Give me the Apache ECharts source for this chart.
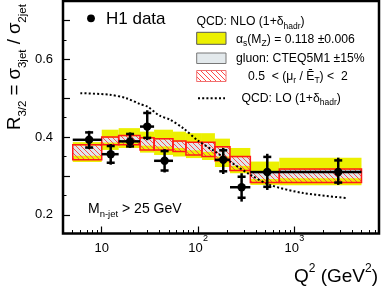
<!DOCTYPE html>
<html><head><meta charset="utf-8">
<script src="https://cdn.jsdelivr.net/npm/echarts@6/dist/echarts.min.js"></script>
<style>html,body{margin:0;padding:0;background:#fff}#c{width:382px;height:289px}</style>
</head><body><div id="c"></div>
<script>
// ---------- data ----------
const qEdges   = [5, 10, 15, 25, 35, 55, 75, 110, 150, 215, 350, 700, 5000];
const yellowLo = [0.336,0.367,0.372,0.360,0.354,0.350,0.346,0.341,0.323,0.307,0.277,0.276];
const yellowHi = [0.387,0.419,0.423,0.414,0.419,0.414,0.410,0.410,0.396,0.372,0.337,0.347];
const gluonLo  = [0.352,0.386,0.387,0.378,0.376,0.372,0.366,0.362,0.350,0.326,0.292,0.294];
const gluonHi  = [0.378,0.398,0.402,0.396,0.394,0.388,0.385,0.385,0.373,0.348,0.309,0.316];
const scaleLo  = [0.342,0.380,0.380,0.367,0.367,0.363,0.354,0.350,0.339,0.314,0.283,0.283];
const scaleHi  = [0.380,0.400,0.404,0.398,0.396,0.390,0.387,0.387,0.375,0.350,0.311,0.318];

const dataQ2   = [7.4, 12.4, 19.7, 29.7, 45, 183, 284, 525, 2865];
const dataQLo  = [5, 10, 15, 25, 35, 150, 215, 350, 700];
const dataQHi  = [10, 15, 25, 35, 55, 215, 350, 700, 5000];
const dataR    = [0.393,0.356,0.389,0.427,0.339,0.3415,0.271,0.310,0.310];
const totLo    = [0.369,0.329,0.372,0.392,0.309,0.305,0.234,0.264,0.277];
const totHi    = [0.416,0.382,0.412,0.469,0.369,0.372,0.307,0.357,0.347];
const statLo   = [0.373,0.334,0.376,0.398,0.314,0.312,0.244,0.272,0.283];
const statHi   = [0.412,0.377,0.408,0.462,0.364,0.366,0.298,0.349,0.340];

const loQ2 = [6, 12, 18, 25, 30, 40, 51, 70, 100, 150, 215, 350, 560, 1240, 3600];
const loR  = [0.513,0.509,0.500,0.485,0.478,0.455,0.445,0.423,0.391,0.363,0.337,0.303,0.277,0.256,0.243];

const xMajorTicks = [10, 100, 1000];
const xLabelBase  = ['10', '10', '10'];
const xLabelExp   = ['', '2', '3'];
const xMinorTicks = [5,6,7,8,9,20,30,40,50,60,70,80,90,200,300,400,500,600,700,800,900,2000,3000,4000,5000,6000,7000];
const yMajorTicks = [0.2, 0.3, 0.4, 0.5, 0.6, 0.7];
const yMinorTicks = [0.25, 0.35, 0.45, 0.55, 0.65];
const yLabelVals  = [0.2, 0.4, 0.6];

const X_MIN = 3.96, X_MAX = 7600, Y_MIN = 0.152, Y_MAX = 0.75;
// ---------------------------------------------------
const FONT = "'Liberation Sans', Arial, Helvetica, sans-serif";
const lg = Math.log10;
const YELLOW = '#ecf000', GRAY = '#dfe6ea', RED = '#ff1a1a';

function hatch() {
  const c = document.createElement('canvas'); c.width = 5; c.height = 5;
  const g = c.getContext('2d'); g.strokeStyle = '#ff4a4a'; g.lineWidth = 1;
  for (const o of [-5, 0, 5]) { g.beginPath(); g.moveTo(o, 0); g.lineTo(o + 5, 5); g.stroke(); }
  return c;
}
const HATCH = { image: hatch(), repeat: 'repeat' };

function boxes(lo, hi) {
  return lo.map((v, i) => [lg(qEdges[i]), lg(qEdges[i + 1]), v, hi[i]]);
}
function boxRender(style) {
  return function (params, api) {
    const a = api.coord([api.value(0), api.value(3)]);
    const b = api.coord([api.value(1), api.value(2)]);
    return { type: 'rect', shape: { x: a[0], y: a[1], width: b[0] - a[0], height: b[1] - a[1] }, style: style };
  };
}

const pts = dataQ2.map((q, i) => [lg(q), dataR[i], lg(dataQLo[i]), lg(dataQHi[i]), totLo[i], totHi[i], statLo[i], statHi[i]]);

const chart = echarts.init(document.getElementById('c'), null, { renderer: 'canvas' });
const axisBase = { type: 'value', min: lg(X_MIN), max: lg(X_MAX), position: 'bottom',
  axisLine: { show: false }, splitLine: { show: false } };
const yBase = { type: 'value', min: Y_MIN, max: Y_MAX, position: 'left',
  axisLine: { show: false }, splitLine: { show: false } };

chart.setOption({
  animation: false,
  backgroundColor: '#fff',
  grid: { left: 63, top: 1, width: 316, height: 232.5, show: true, borderColor: '#000', borderWidth: 2.5, backgroundColor: 'transparent' },
  xAxis: [
    Object.assign({}, axisBase, {
      axisTick: { inside: true, length: 7, customValues: xMajorTicks.map(lg), lineStyle: { color: '#000', width: 1.2 } },
      axisLabel: { show: false }
    }),
    Object.assign({}, axisBase, {
      axisTick: { inside: true, length: 3.5, customValues: xMinorTicks.map(lg), lineStyle: { color: '#000', width: 1 } },
      axisLabel: { show: false }
    })
  ],
  yAxis: [
    Object.assign({}, yBase, {
      axisTick: { inside: true, length: 7, customValues: yMajorTicks, lineStyle: { color: '#000', width: 1.2 } },
      axisLabel: { customValues: yLabelVals, formatter: v => v.toFixed(1), fontSize: 13, margin: 10, color: '#000', fontFamily: FONT }
    }),
    Object.assign({}, yBase, {
      axisTick: { inside: true, length: 3.5, customValues: yMinorTicks, lineStyle: { color: '#000', width: 1 } },
      axisLabel: { show: false }
    })
  ],
  series: [
    { type: 'custom', name: 'alpha_s', data: boxes(yellowLo, yellowHi), encode: { x: [0, 1], y: [2, 3] },
      renderItem: boxRender({ fill: YELLOW }), z: 1, silent: true },
    { type: 'custom', name: 'gluon', data: boxes(gluonLo, gluonHi), encode: { x: [0, 1], y: [2, 3] },
      renderItem: boxRender({ fill: GRAY }), z: 2, silent: true },
    { type: 'custom', name: 'scale', data: boxes(scaleLo, scaleHi), encode: { x: [0, 1], y: [2, 3] },
      renderItem: boxRender({ fill: HATCH, stroke: RED, lineWidth: 1.5 }), z: 3, silent: true },
    { type: 'line', name: 'LO', data: loQ2.map((q, i) => [lg(q), loR[i]]), showSymbol: false, smooth: 0.3,
      lineStyle: { color: '#000', width: 2, type: [2, 2.2] }, z: 4, silent: true },
    { type: 'custom', name: 'H1 data', data: pts, encode: { x: 0, y: 1 }, z: 5, silent: true,
      renderItem: function (params, api) {
        const p = api.coord([api.value(0), api.value(1)]);
        const l = api.coord([api.value(2), api.value(1)]);
        const h = api.coord([api.value(3), api.value(1)]);
        const tl = api.coord([api.value(0), api.value(4)]);
        const th = api.coord([api.value(0), api.value(5)]);
        const sl = api.coord([api.value(0), api.value(6)]);
        const sh = api.coord([api.value(0), api.value(7)]);
        const st = { stroke: '#000', lineWidth: 2.5 };
        const c = 4;
        return { type: 'group', children: [
          { type: 'line', shape: { x1: l[0], y1: p[1], x2: h[0], y2: p[1] }, style: st },
          { type: 'line', shape: { x1: p[0], y1: th[1], x2: p[0], y2: tl[1] }, style: st },
          { type: 'line', shape: { x1: p[0] - c, y1: sl[1], x2: p[0] + c, y2: sl[1] }, style: st },
          { type: 'line', shape: { x1: p[0] - c, y1: sh[1], x2: p[0] + c, y2: sh[1] }, style: st },
          { type: 'circle', shape: { cx: p[0], cy: p[1], r: 4.2 }, style: { fill: '#000' } }
        ] };
      } },
    // x-axis tick labels (10, 10^2, 10^3), placed through the x scale
    { type: 'custom', name: 'xlabels', data: xMajorTicks.map((t, i) => [lg(t), i]), encode: { x: 0 }, z: 6, silent: true, clip: false,
      renderItem: function (params, api) {
        const i = api.value(1);
        const p = api.coord([api.value(0), Y_MIN]);
        const hasExp = !!xLabelExp[i];
        const baseW = 14.5, expW = 5;
        const x0 = hasExp ? p[0] - (baseW + expW) / 2 : p[0] - baseW / 2;
        const kids = [
          { type: 'text', x: x0, y: p[1] + 15,
            style: { text: xLabelBase[i], fontSize: 13, fontFamily: FONT, fill: '#000', align: 'left', verticalAlign: 'middle', textAlign: 'left', textVerticalAlign: 'middle' } }
        ];
        if (hasExp) kids.push({ type: 'text', x: x0 + baseW + 0.3, y: p[1] + 5,
            style: { text: xLabelExp[i], fontSize: 9, fontFamily: FONT, fill: '#000', align: 'left', verticalAlign: 'middle', textAlign: 'left', textVerticalAlign: 'middle' } });
        return { type: 'group', children: kids };
      } }
  ],
  graphic: [
    { type: 'text', x: 14.5, y: 67, rotation: Math.PI / 2, z: 10,
      style: { text: 'R{sb|3/2} = σ{sb|3jet} / σ{sb|2jet}', fontSize: 18.5, fontFamily: FONT, fill: '#000', lineHeight: 28,
        align: 'center', verticalAlign: 'middle', textAlign: 'center', textVerticalAlign: 'middle',
        rich: { sb: { fontSize: 11.5, lineHeight: 10, verticalAlign: 'bottom', fontFamily: FONT, fill: '#000' } } } },
    { type: 'text', x: 378, y: 276.5, z: 10,
      style: { text: 'Q{sp|2} (GeV{sp|2})', fontSize: 19, fontFamily: FONT, fill: '#000', lineHeight: 28,
        align: 'right', verticalAlign: 'middle', textAlign: 'right', textVerticalAlign: 'middle',
        rich: { sp: { fontSize: 12, lineHeight: 12, verticalAlign: 'top', fontFamily: FONT, fill: '#000' } } } },
    { type: 'circle', shape: { cx: 91, cy: 18.3, r: 3.9 }, style: { fill: '#000' }, z: 10 },
    { type: 'text', x: 106, y: 19.8, z: 10,
      style: { text: 'H1 data', fontSize: 17, fontFamily: FONT, fill: '#000', align: 'left', verticalAlign: 'middle', textAlign: 'left', textVerticalAlign: 'middle' } },
    { type: 'text', x: 196.5, y: 22, z: 10,
      style: { text: 'QCD: NLO (1+δ{sb|hadr})', fontSize: 12.2, fontFamily: FONT, fill: '#000', lineHeight: 18,
        align: 'left', verticalAlign: 'middle', textAlign: 'left', textVerticalAlign: 'middle',
        rich: { sb: { fontSize: 8.5, lineHeight: 9, verticalAlign: 'bottom', fontFamily: FONT, fill: '#000' } } } },
    { type: 'rect', shape: { x: 196.7, y: 32.3, width: 29.3, height: 12 }, style: { fill: YELLOW, stroke: '#555', lineWidth: 1 }, z: 10 },
    { type: 'text', x: 236, y: 39.5, z: 10,
      style: { text: 'α{sb|s}(M{sb|Z}) = 0.118 ±0.006', fontSize: 12.2, fontFamily: FONT, fill: '#000', lineHeight: 18,
        align: 'left', verticalAlign: 'middle', textAlign: 'left', textVerticalAlign: 'middle',
        rich: { sb: { fontSize: 8.5, lineHeight: 9, verticalAlign: 'bottom', fontFamily: FONT, fill: '#000' } } } },
    { type: 'rect', shape: { x: 196.7, y: 53, width: 29.3, height: 10.5 }, style: { fill: '#e3e9ec', stroke: '#777', lineWidth: 1 }, z: 10 },
    { type: 'text', x: 236, y: 58.5, z: 10,
      style: { text: 'gluon: CTEQ5M1 ±15%', fontSize: 12.2, fontFamily: FONT, fill: '#000',
        align: 'left', verticalAlign: 'middle', textAlign: 'left', textVerticalAlign: 'middle' } },
    { type: 'rect', shape: { x: 196.7, y: 70.5, width: 29.3, height: 11 }, style: { fill: HATCH, stroke: '#f07070', lineWidth: 1 }, z: 10 },
    { type: 'text', x: 248, y: 76.5, z: 10,
      style: { text: '0.5  < (μ{sb|r} / Ē{sb|T}) <  2', fontSize: 12.2, fontFamily: FONT, fill: '#000', lineHeight: 18,
        align: 'left', verticalAlign: 'middle', textAlign: 'left', textVerticalAlign: 'middle',
        rich: { sb: { fontSize: 8.5, lineHeight: 9, verticalAlign: 'bottom', fontFamily: FONT, fill: '#000' } } } },
    { type: 'line', shape: { x1: 198, y1: 98.3, x2: 225, y2: 98.3 }, style: { stroke: '#000', lineWidth: 2, lineDash: [2, 2.2] }, z: 10 },
    { type: 'text', x: 241.5, y: 98.5, z: 10,
      style: { text: 'QCD: LO (1+δ{sb|hadr})', fontSize: 12.2, fontFamily: FONT, fill: '#000', lineHeight: 18,
        align: 'left', verticalAlign: 'middle', textAlign: 'left', textVerticalAlign: 'middle',
        rich: { sb: { fontSize: 8.5, lineHeight: 9, verticalAlign: 'bottom', fontFamily: FONT, fill: '#000' } } } },
    { type: 'text', x: 88, y: 209, z: 10,
      style: { text: 'M{sb|n-jet} > 25 GeV', fontSize: 14, fontFamily: FONT, fill: '#000', lineHeight: 20,
        align: 'left', verticalAlign: 'middle', textAlign: 'left', textVerticalAlign: 'middle',
        rich: { sb: { fontSize: 9.5, lineHeight: 10, verticalAlign: 'bottom', fontFamily: FONT, fill: '#000' } } } }
  ]
});
</script>
</body></html>
